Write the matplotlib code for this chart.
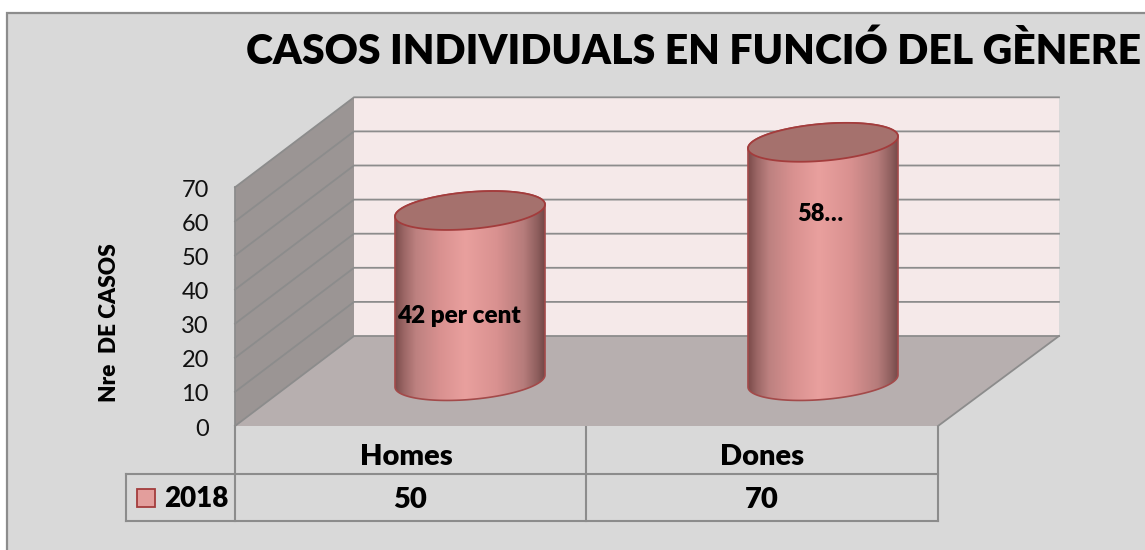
import numpy as np
import matplotlib
matplotlib.use('Agg')
import matplotlib.pyplot as plt
from matplotlib.colors import LinearSegmentedColormap
from matplotlib.patches import Polygon, Rectangle

plt.rcParams['font.family'] = ['Lato', 'DejaVu Sans']

categories = ['Homes', 'Dones']
values = [50, 70]
bar_labels = ['42 per cent', '58…']
series_name = '2018'
y_ticks = [0, 10, 20, 30, 40, 50, 60, 70]
title = 'CASOS INDIVIDUALS EN FUNCIÓ DEL GÈNERE'
y_title = 'Nre  DE CASOS'

W, H = 1145, 550
LINE = '#8c8c8c'
BOLD = 'heavy'

# pixels per unit of the chart axes
sx = 353.0
sy = 3.41
x_zero = 470.0
y_zero = 426.0

fig = plt.figure(figsize=(W / 100, H / 100), dpi=100, facecolor='white')

# page layer in pixels: frame, title, table
page = fig.add_axes([0, 0, 1, 1], zorder=0)
page.set_xlim(0, W)
page.set_ylim(H, 0)
page.axis('off')
page.add_patch(Rectangle((7, 13), W + 20, H + 20, fc='#d9d9d9', ec=LINE, lw=1.6))

# chart layer: x is the category index, y is the value
ax = fig.add_axes([0, 0, 1, 1], zorder=1)
ax.patch.set_alpha(0)
ax.axis('off')
xlim = (-x_zero / sx, (W - x_zero) / sx)
ylim = ((y_zero - H) / sy, y_zero / sy)


def cx(px):
    return (px - x_zero) / sx


top_value = y_ticks[-1]
depth_x = 119 / sx
depth_y = 90 / sy
wall_x = cx(235)
right_x = cx(938)

# back wall, floor and side wall
ax.add_patch(Polygon([(wall_x + depth_x, depth_y), (cx(1059), depth_y),
                      (cx(1059), depth_y + top_value), (wall_x + depth_x, depth_y + top_value)],
                     fc='#f5e9e9', ec='none', zorder=1))
ax.add_patch(Polygon([(wall_x, 0), (wall_x + depth_x, depth_y), (cx(1059), depth_y), (right_x, 0)],
                     fc='#b7afaf', ec='none', zorder=1))
ax.add_patch(Polygon([(wall_x, 0), (wall_x + depth_x, depth_y),
                      (wall_x + depth_x, depth_y + top_value), (wall_x, top_value)],
                     fc='#9b9594', ec='none', zorder=1))

# gridlines along side and back wall
for v in y_ticks:
    ax.plot([wall_x, wall_x + depth_x, cx(1059)], [v, v + depth_y, v + depth_y],
            color=LINE, lw=1.3, zorder=2, solid_joinstyle='miter')
    ax.text(cx(209), v - 0.9, str(v), ha='right', va='center', fontsize=17, color='#111111')
ax.plot([wall_x, wall_x], [0, top_value], color=LINE, lw=1.3, zorder=2)
ax.plot([right_x, cx(1059)], [0, depth_y], color=LINE, lw=1.3, zorder=2)

# cylinders
shade = LinearSegmentedColormap.from_list('cyl', [
    (0.0, '#7b4b4a'), (0.06, '#9c6766'), (0.14, '#bd8180'), (0.30, '#d99190'),
    (0.47, '#e9a09e'), (0.68, '#d99190'), (0.86, '#b67c7b'), (0.95, '#8f5f5e'), (1.0, '#734847')])
half_w = 75
half_h = 18.5
skew = 6
base_y = 45 / sy
t = np.linspace(0, 2 * np.pi, 181)
ell_x = half_w * np.cos(t) / sx
ell_y = (skew * np.cos(t) - half_h * np.sin(t)) / sy
bottom_half = t <= np.pi
top_half = t >= np.pi

for i, v in enumerate(values):
    body = np.column_stack([np.r_[i + ell_x[bottom_half], i + ell_x[top_half]],
                            np.r_[base_y + ell_y[bottom_half], base_y + v + ell_y[top_half]]])
    im = ax.imshow(np.linspace(0, 1, 256).reshape(1, -1), cmap=shade, aspect='auto', zorder=3,
                   extent=(i - half_w / sx, i + half_w / sx, base_y - 8, base_y + v + 8))
    outline = Polygon(body, closed=True, fc='none', ec='#a34a4a', lw=1.2, zorder=4)
    ax.add_patch(outline)
    im.set_clip_path(outline)
    ax.add_patch(Polygon(np.column_stack([i + ell_x, base_y + v + ell_y]), closed=True,
                         fc='#a5716d', ec='#a33c3c', lw=1.3, zorder=5))

ax.set_xlim(xlim)
ax.set_ylim(ylim)

# data labels
ax.text(cx(459), (y_zero - 316) / sy, bar_labels[0], ha='center', va='center',
        fontsize=17.5, fontweight=BOLD, color='black', zorder=6)
ax.text(cx(820), (y_zero - 214) / sy, bar_labels[1], ha='center', va='center',
        fontsize=17, fontweight=BOLD, color='black', zorder=6)

# data table under the chart
table_x = [235, 586, 938]
for x in table_x:
    page.plot([x, x], [426, 521], color=LINE, lw=1.5)
page.plot([126, 938], [474, 474], color=LINE, lw=1.5)
page.plot([126, 938], [521, 521], color=LINE, lw=1.5)
page.plot([126, 126], [474, 521], color=LINE, lw=1.5)
page.add_patch(Rectangle((137, 489), 18, 18, fc='#e39e9c', ec='#a33c3c', lw=1.3))
page.text(196, 499, series_name, ha='center', va='center', fontsize=20, fontweight=BOLD, color='black')
for i, (c, v) in enumerate(zip(categories, values)):
    mid = (table_x[i] + table_x[i + 1]) / 2
    page.text(mid - 4 + i * 4, 457, c, ha='center', va='center', fontsize=21, fontweight=BOLD, color='black')
    page.text(mid, 500, str(v), ha='center', va='center', fontsize=21, fontweight=BOLD, color='black')

page.text(110, 323, y_title, rotation=90, ha='center', va='center', fontsize=16.3,
          fontweight=BOLD, color='black')
page.text(694, 51, title, ha='center', va='center', fontsize=29.4, fontweight=BOLD, color='black')

fig.savefig('out.png', dpi=100, facecolor=fig.get_facecolor())
